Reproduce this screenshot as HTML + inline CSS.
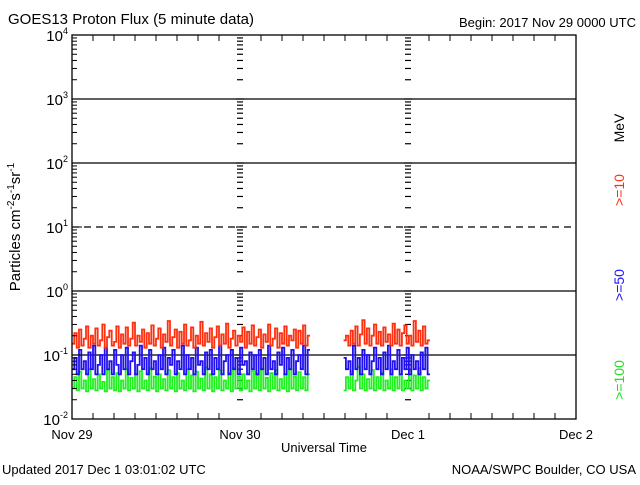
<!DOCTYPE html>
<html><head><meta charset="utf-8"><style>
body{margin:0;background:#fff;}
svg text{font-family:"Liberation Sans",sans-serif;}
</style></head><body>
<svg id="c" width="640" height="480" xmlns="http://www.w3.org/2000/svg">
<rect width="640" height="480" fill="#fff"/>
<text x="8" y="24" font-size="15">GOES13 Proton Flux (5 minute data)</text>
<text x="636" y="27" font-size="13" text-anchor="end">Begin: 2017 Nov 29 0000 UTC</text>
<text transform="translate(20,227) rotate(-90)" font-size="15" text-anchor="middle">Particles cm<tspan dy="-6" font-size="10">-2</tspan><tspan dy="6">s</tspan><tspan dy="-6" font-size="10">-1</tspan><tspan dy="6">sr</tspan><tspan dy="-6" font-size="10">-1</tspan></text>
<text transform="translate(624,128) rotate(-90)" font-size="14" text-anchor="middle">MeV</text>
<text transform="translate(624,190) rotate(-90)" font-size="14" text-anchor="middle" fill="#ff3010">&gt;=10</text>
<text transform="translate(624,285) rotate(-90)" font-size="14" text-anchor="middle" fill="#2010ff">&gt;=50</text>
<text transform="translate(624,380) rotate(-90)" font-size="14" text-anchor="middle" fill="#20e020">&gt;=100</text>
<text x="324" y="452" font-size="13" text-anchor="middle">Universal Time</text>
<text x="2" y="474" font-size="13">Updated 2017 Dec  1 03:01:02 UTC</text>
<text x="636" y="474" font-size="13" text-anchor="end">NOAA/SWPC Boulder, CO USA</text>
<g id="grid"></g><g id="series"></g><g id="axes"></g>
</svg>
<script>
const dayLabels=["Nov 29","Nov 30","Dec 1","Dec 2"];
const decadeExps=[-2,-1,0,1,2,3,4];
const seg1Start=0, seg2Start=38.8, stepHours=1/3;
const red1=[0.15,0.22,0.13,0.25,0.14,0.18,0.28,0.13,0.2,0.15,0.26,0.14,0.17,0.3,0.13,0.19,0.24,0.14,0.16,0.28,
0.13,0.21,0.15,0.27,0.14,0.18,0.32,0.14,0.2,0.16,0.25,0.13,0.22,0.15,0.29,0.14,0.18,0.26,0.13,0.21,
0.16,0.34,0.14,0.19,0.25,0.13,0.23,0.15,0.3,0.14,0.17,0.27,0.13,0.2,0.15,0.33,0.14,0.22,0.16,0.26,
0.13,0.19,0.28,0.14,0.21,0.15,0.31,0.13,0.18,0.24,0.14,0.2,0.16,0.27,0.13,0.23,0.15,0.29,0.14,0.19,
0.25,0.13,0.21,0.16,0.3,0.14,0.18,0.26,0.13,0.22,0.15,0.28,0.14,0.2,0.17,0.25,0.13,0.24,0.15,0.29,0.14,0.2];
const blue1=[0.06,0.09,0.05,0.12,0.06,0.08,0.05,0.11,0.06,0.14,0.05,0.07,0.1,0.05,0.13,0.06,0.08,0.05,0.12,0.07,
0.05,0.1,0.06,0.13,0.05,0.08,0.11,0.05,0.07,0.14,0.06,0.09,0.05,0.12,0.06,0.08,0.05,0.1,0.06,0.13,
0.05,0.09,0.07,0.12,0.05,0.08,0.06,0.14,0.05,0.1,0.06,0.09,0.05,0.13,0.07,0.08,0.05,0.11,0.06,0.12,
0.05,0.09,0.06,0.14,0.05,0.08,0.1,0.05,0.12,0.06,0.09,0.05,0.13,0.07,0.08,0.05,0.11,0.06,0.1,0.05,
0.12,0.06,0.09,0.05,0.14,0.06,0.08,0.05,0.11,0.07,0.13,0.05,0.09,0.06,0.12,0.05,0.08,0.1,0.06,0.14,0.05,0.12];
const green1=[0.03,0.045,0.028,0.055,0.03,0.04,0.027,0.06,0.03,0.042,0.028,0.05,0.03,0.038,0.027,0.058,0.03,0.045,0.028,0.052,
0.027,0.04,0.03,0.06,0.028,0.044,0.03,0.05,0.027,0.056,0.03,0.04,0.028,0.062,0.03,0.046,0.027,0.05,0.03,0.042,
0.028,0.058,0.03,0.045,0.027,0.052,0.03,0.04,0.028,0.06,0.03,0.048,0.027,0.055,0.03,0.043,0.028,0.064,0.03,0.05,
0.027,0.045,0.03,0.058,0.028,0.04,0.03,0.052,0.027,0.062,0.03,0.046,0.028,0.05,0.03,0.04,0.027,0.056,0.03,0.048,
0.028,0.06,0.03,0.044,0.027,0.052,0.03,0.058,0.028,0.042,0.03,0.05,0.027,0.06,0.03,0.046,0.028,0.054,0.03,0.045,0.028,0.05];
const red2=[0.17,0.2,0.14,0.24,0.15,0.28,0.14,0.21,0.35,0.15,0.26,0.14,0.2,0.3,0.15,0.23,0.14,0.27,0.16,0.21,
0.14,0.31,0.15,0.25,0.14,0.22,0.29,0.15,0.2,0.14,0.34,0.16,0.24,0.14,0.28,0.15,0.17];
const blue2=[0.09,0.06,0.08,0.05,0.14,0.06,0.09,0.05,0.12,0.06,0.1,0.05,0.08,0.13,0.06,0.09,0.05,0.11,0.06,0.14,
0.05,0.08,0.06,0.12,0.05,0.09,0.06,0.13,0.05,0.1,0.06,0.08,0.05,0.11,0.06,0.13,0.05];
const green2=[0.028,0.045,0.03,0.055,0.028,0.04,0.065,0.03,0.05,0.028,0.042,0.03,0.058,0.028,0.045,0.03,0.052,0.028,0.04,0.03,
0.06,0.028,0.045,0.03,0.05,0.028,0.04,0.03,0.056,0.028,0.048,0.03,0.062,0.028,0.045,0.03,0.04];

const NS="http://www.w3.org/2000/svg";
const X0=72,X1=576,Y0=35,Y1=419;
const xs=h=>X0+h*(X1-X0)/72;
const ys=v=>Y1-(Math.log10(v)+2)*(Y1-Y0)/6;
function mk(tag,attrs,parent){const e=document.createElementNS(NS,tag);for(const k in attrs)e.setAttribute(k,attrs[k]);parent.appendChild(e);return e;}
const grid=document.getElementById('grid'),axes=document.getElementById('axes'),ser=document.getElementById('series');
decadeExps.forEach(ex=>{
  if(ex===-2||ex===4)return;
  const y=ys(Math.pow(10,ex));
  const l=mk('line',{x1:X0,x2:X1,y1:y,y2:y,stroke:'#000','stroke-width':1.3},grid);
  if(ex===1)l.setAttribute('stroke-dasharray','7,5');
  
  
});
[1,2].forEach(d=>{
  const x=xs(d*24);
  decadeExps.forEach(ex=>{
    if(ex===4)return;
    for(let m=2;m<=9;m++){const y=ys(m*Math.pow(10,ex));mk('line',{x1:x-3,x2:x+3,y1:y,y2:y,stroke:'#000','stroke-width':1.2},grid);}
    if(ex>-2&&ex<4){const y=ys(Math.pow(10,ex));mk('line',{x1:x-4,x2:x+4,y1:y,y2:y,stroke:'#000','stroke-width':1.2},grid);}
  });
});
const box=mk('rect',{x:X0,y:Y0,width:X1-X0,height:Y1-Y0,fill:'none',stroke:'#000','stroke-width':1.3},axes);


decadeExps.forEach(ex=>{
  const y=ys(Math.pow(10,ex));
  mk('line',{x1:X0,x2:X0+10,y1:y,y2:y,stroke:'#000'},axes);
  if(ex<4)for(let m=2;m<=9;m++){const yy=ys(m*Math.pow(10,ex));mk('line',{x1:X0,x2:X0+5,y1:yy,y2:yy,stroke:'#000'},axes);}
  const t=mk('text',{x:X0-4,y:y+6,'font-size':15,'text-anchor':'end'},axes);
  
  
  t.textContent='10';
  const s=mk('tspan',{dy:-7,'font-size':9},t);s.textContent=String(ex);
});
for(let h=0;h<=72;h+=3){const x=xs(h);const len=h%24===0?0:6;
  mk('line',{x1:x,x2:x,y1:Y1,y2:Y1-len,stroke:'#000'},axes);mk('line',{x1:x,x2:x,y1:Y0,y2:Y0+len,stroke:'#000'},axes);}
dayLabels.forEach((lab,i)=>{const t=mk('text',{x:xs(i*24),y:439,'font-size':13,'text-anchor':'middle'},axes);
  
  
  t.textContent=lab;});
function draw(vals,start,color,name){
  let d='';
  vals.forEach((v,i)=>{const xa=xs(start+i*stepHours),xb=xs(start+(i+1)*stepHours),y=ys(v);
    d+=(i===0?'M':'L')+xa.toFixed(1)+','+y.toFixed(1)+'L'+xb.toFixed(1)+','+y.toFixed(1);});
  const p=mk('path',{d:d,fill:'none',stroke:color,'stroke-width':1.8},ser);
  
  
}
draw(green1,seg1Start,'#20f020','series-100mev-seg1');draw(green2,seg2Start,'#20f020','series-100mev-seg2');
draw(blue1,seg1Start,'#2010f0','series-50mev-seg1');draw(blue2,seg2Start,'#2010f0','series-50mev-seg2');
draw(red1,seg1Start,'#ff3010','series-10mev-seg1');draw(red2,seg2Start,'#ff3010','series-10mev-seg2');
</script>
</body></html>
